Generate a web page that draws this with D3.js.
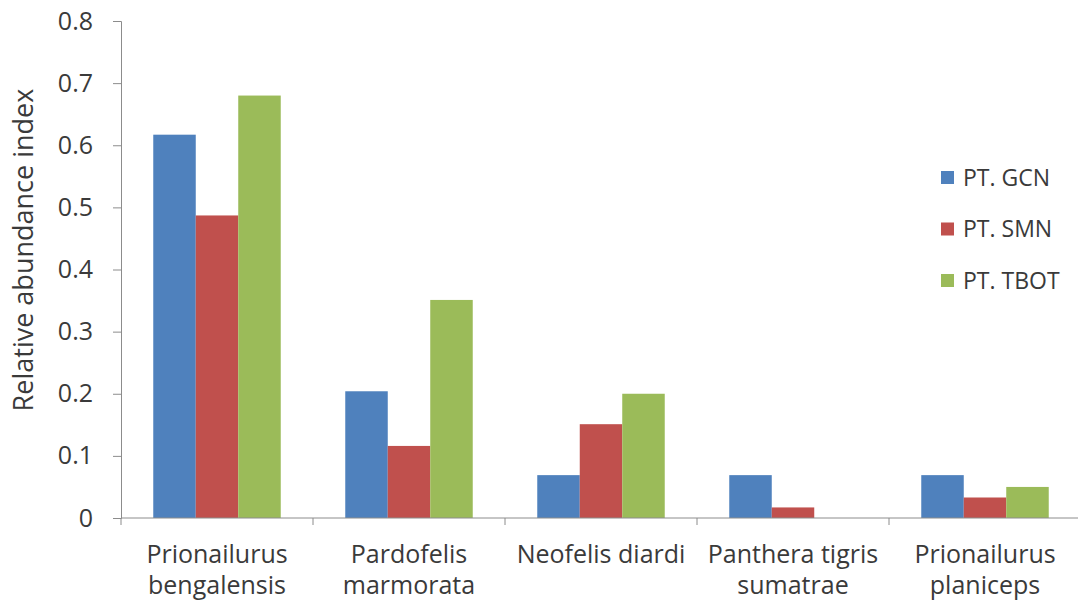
<!DOCTYPE html>
<html>
<head>
<meta charset="utf-8">
<script src="https://cdn.jsdelivr.net/npm/d3@7"></script>
<style>
  html, body { margin: 0; padding: 0; background: #fff; }
  svg { display: block; }
</style>
</head>
<body>
<svg id="chart" width="1078" height="606"></svg>
<script>
// Species (two-line labels) and the three survey sites
const categories = [
  ["Prionailurus", "bengalensis"],
  ["Pardofelis", "marmorata"],
  ["Neofelis diardi"],
  ["Panthera tigris", "sumatrae"],
  ["Prionailurus", "planiceps"]
];
const seriesNames = ["PT. GCN", "PT. SMN", "PT. TBOT"];
const gcn  = [0.617, 0.204, 0.069, 0.069, 0.069];
const smn  = [0.487, 0.116, 0.151, 0.017, 0.033];
const tbot = [0.680, 0.351, 0.200, 0.000, 0.050];
const yTicks = [0, 0.1, 0.2, 0.3, 0.4, 0.5, 0.6, 0.7, 0.8];
const colors = ["#4F81BD", "#C0504D", "#9BBB59"];

const series = [gcn, smn, tbot];
const svg = d3.select("#chart");
const font = "'Open Sans', 'Noto Sans', sans-serif";
const textColor = "#3a3a3a";
const axisColor = "#8c8c8c";

const margin = { left: 121, right: -3, top: 21, bottom: 88 };
const W = 1078, H = 606;
const plotW = W - margin.left - margin.right;
const plotH = H - margin.top - margin.bottom;

const x0 = d3.scaleBand()
  .domain(d3.range(categories.length))
  .range([0, plotW])
  .paddingInner(0)
  .paddingOuter(0);
const x1 = d3.scaleBand()
  .domain(d3.range(series.length))
  .range([0, x0.bandwidth() * 0.664]);
const y = d3.scaleLinear().domain([0, 0.8]).range([plotH, 0]);

const g = svg.append("g").attr("transform", `translate(${margin.left},${margin.top})`);

// Bars
const groups = g.selectAll("g.grp")
  .data(categories)
  .join("g")
  .attr("class", "grp")
  .attr("transform", (d, i) => `translate(${x0(i) + x0.bandwidth() * 0.168},0)`);

groups.selectAll("rect")
  .data((d, i) => series.map((s, k) => ({ k, v: s[i] })))
  .join("rect")
  .attr("x", d => x1(d.k))
  .attr("width", x1.bandwidth())
  .attr("y", d => y(d.v))
  .attr("height", d => plotH - y(d.v))
  .attr("fill", d => colors[d.k]);

// Y axis
const yAxis = g.append("g")
  .call(d3.axisLeft(y).tickValues(yTicks)
    .tickFormat(d => d === 0 ? "0" : d3.format(".1f")(d))
    .tickSize(8).tickPadding(20));
yAxis.select(".domain").attr("stroke", axisColor);
yAxis.selectAll(".tick line").attr("stroke", axisColor);
yAxis.selectAll(".tick text")
  .attr("fill", textColor)
  .style("font-family", font)
  .style("font-size", "25px");

// X axis: line with tick marks at category boundaries
const xg = g.append("g").attr("transform", `translate(0,${plotH})`);
xg.append("line")
  .attr("x1", 0).attr("x2", plotW)
  .attr("stroke", axisColor);
xg.selectAll("line.tk")
  .data(d3.range(categories.length + 1))
  .join("line")
  .attr("class", "tk")
  .attr("x1", i => i < categories.length ? x0(i) : plotW)
  .attr("x2", i => i < categories.length ? x0(i) : plotW)
  .attr("y1", 0).attr("y2", 7)
  .attr("stroke", axisColor);

const labels = xg.selectAll("text.cat")
  .data(categories)
  .join("text")
  .attr("class", "cat")
  .attr("text-anchor", "middle")
  .attr("fill", textColor)
  .style("font-family", font)
  .style("font-size", "25px")
  .attr("x", (d, i) => x0(i) + x0.bandwidth() / 2);
labels.selectAll("tspan")
  .data(d => d)
  .join("tspan")
  .attr("x", function () { return d3.select(this.parentNode).attr("x"); })
  .attr("y", (d, j) => 45 + j * 31)
  .text(d => d);

// Y axis title
svg.append("text")
  .attr("transform", "translate(33,250) rotate(-90)")
  .attr("text-anchor", "middle")
  .attr("fill", textColor)
  .style("font-family", font)
  .style("font-size", "27px")
  .text("Relative abundance index");

// Legend
const legend = svg.append("g").attr("transform", "translate(941,177.5)");
const li = legend.selectAll("g")
  .data(seriesNames)
  .join("g")
  .attr("transform", (d, i) => `translate(0,${i * 51.5})`);
li.append("rect")
  .attr("x", 0).attr("y", -6.5)
  .attr("width", 13).attr("height", 13)
  .attr("fill", (d, i) => colors[i]);
li.append("text")
  .attr("x", 22).attr("y", 0)
  .attr("dy", "0.36em")
  .attr("fill", textColor)
  .style("font-family", font)
  .style("font-size", "23px")
  .text(d => d);
</script>
</body>
</html>
